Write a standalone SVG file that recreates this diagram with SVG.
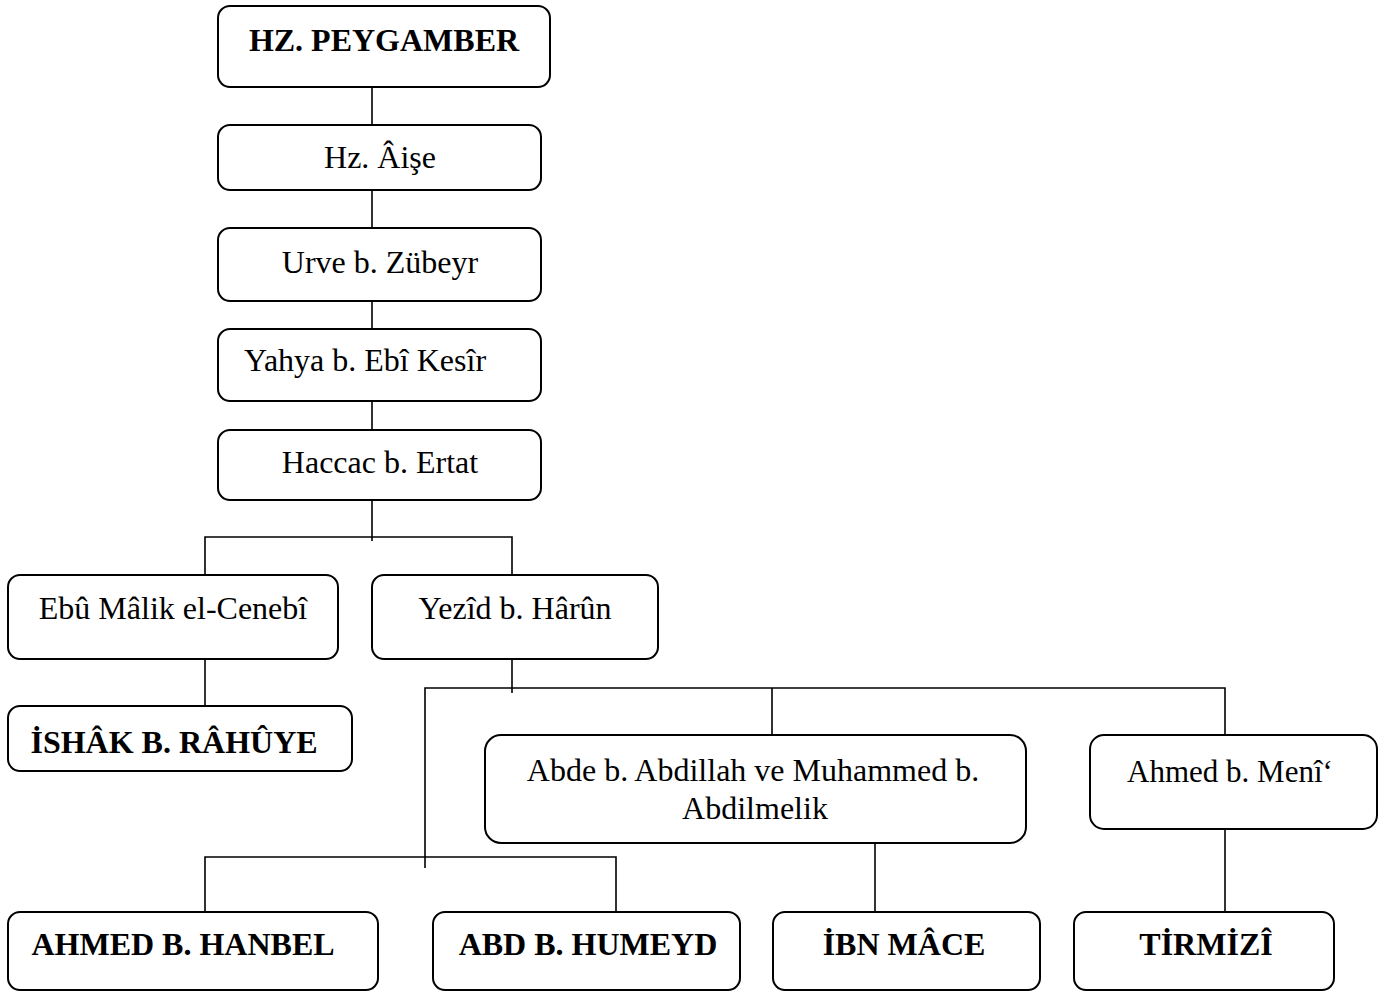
<svg xmlns="http://www.w3.org/2000/svg" width="1381" height="992" viewBox="0 0 1381 992">
<style>
rect{fill:#fff;stroke:#000;stroke-width:2}
text{font-family:"Liberation Serif","Times New Roman",serif;font-size:32px;fill:#000;text-anchor:middle}
.b{font-weight:bold}
#connectors path{fill:none;stroke:#000;stroke-width:1.6}
</style>
<rect x="0" y="0" width="1381" height="992" style="stroke:none"/>
<g id="connectors">
<path d="M372 87V125M372 190V228M372 301V329M372 401V430M372 500V541"/>
<path d="M205 575V537H512V575"/>
<path d="M205 655V711"/>
<path d="M512 655V693"/>
<path d="M425 868V688H1225V740M772 688V736"/>
<path d="M205 912V857H616V912"/>
<path d="M875 840V912"/>
<path d="M1225 825V918"/>
</g>
<g id="n1"><rect x="218" y="6" width="332" height="81" rx="12"/><text class="b" x="384" y="51">HZ. PEYGAMBER</text></g>
<g id="n2"><rect x="218" y="125" width="323" height="65" rx="12"/><text x="380" y="168">Hz. Âişe</text></g>
<g id="n3"><rect x="218" y="228" width="323" height="73" rx="12"/><text x="380" y="273">Urve b. Zübeyr</text></g>
<g id="n4"><rect x="218" y="329" width="323" height="72" rx="12"/><text x="244" y="371" style="text-anchor:start">Yahya b. Ebî Kesîr</text></g>
<g id="n5"><rect x="218" y="430" width="323" height="70" rx="12"/><text x="380" y="473">Haccac b. Ertat</text></g>
<g id="n6"><rect x="8" y="575" width="330" height="84" rx="12"/><text x="173" y="619">Ebû Mâlik el-Cenebî</text></g>
<g id="n7"><rect x="372" y="575" width="286" height="84" rx="12"/><text x="515" y="619">Yezîd b. Hârûn</text></g>
<g id="n8"><rect x="8" y="706" width="344" height="65" rx="12"/><text class="b" x="174" y="753">İSHÂK B. RÂHÛYE</text></g>
<g id="n9"><rect x="485" y="735" width="541" height="108" rx="16"/><text x="753" y="781">Abde b. Abdillah ve Muhammed b.</text><text x="755" y="819">Abdilmelik</text></g>
<g id="n10"><rect x="1090" y="735" width="287" height="94" rx="14"/><text x="1230" y="782" style="font-size:31px">Ahmed b. Menî‘</text></g>
<g id="n11"><rect x="8" y="912" width="370" height="78" rx="12"/><text class="b" x="183" y="955">AHMED B. HANBEL</text></g>
<g id="n12"><rect x="433" y="912" width="307" height="78" rx="12"/><text class="b" x="588" y="955">ABD B. HUMEYD</text></g>
<g id="n13"><rect x="773" y="912" width="267" height="78" rx="12"/><text class="b" x="904" y="955">İBN MÂCE</text></g>
<g id="n14"><rect x="1074" y="912" width="260" height="78" rx="12"/><text class="b" x="1206" y="955">TİRMİZÎ</text></g>
</svg>
